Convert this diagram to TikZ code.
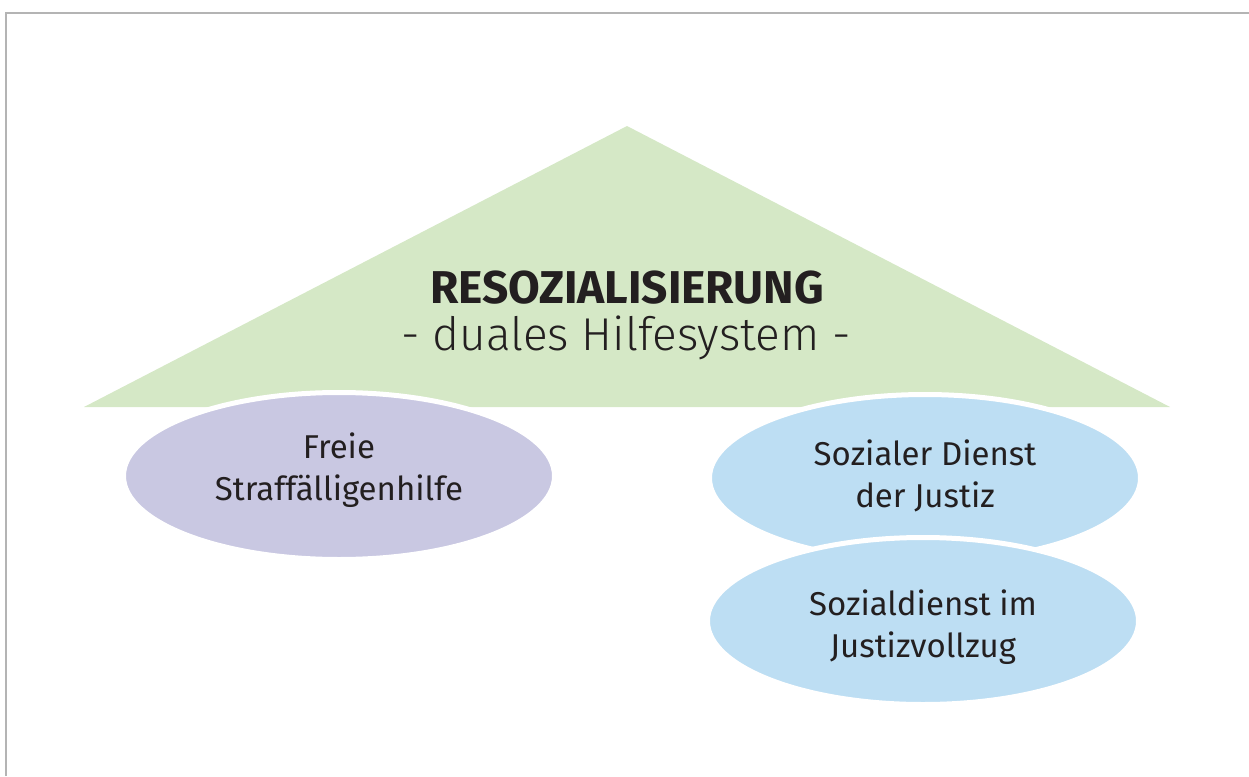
\documentclass[tikz,border=0pt]{standalone}
\usepackage{fontspec}
\setmainfont{Fira Sans}
\newfontfamily\lightfont{Fira Sans}[UprightFont={* Light}]
\usetikzlibrary{shapes.geometric}
\definecolor{roofgreen}{HTML}{D5E8C6}
\definecolor{lavender}{HTML}{C9C8E2}
\definecolor{paleblue}{HTML}{BDDEF3}
\definecolor{framegray}{HTML}{B4B4B4}
\definecolor{textdark}{HTML}{231F20}
\tikzset{
  pillar/.style={ellipse, draw=white, line width=5pt, inner sep=0pt,
    minimum width=431pt, minimum height=167pt},
  pillartext/.style={anchor=base, align=center, inner sep=0pt,
    text=textdark, font=\fontsize{33}{42}\selectfont},
}
\begin{document}
\begin{tikzpicture}[x=1pt, y=-1pt]
\useasboundingbox (0,0) rectangle (1249,776);
% frame
\draw[framegray, line width=1.6pt] (6,776) -- (6,13) -- (1249,13);
% roof
\fill[roofgreen] (84,407) -- (627,126) -- (1170,407) -- cycle;
\node[anchor=base, text=textdark, font=\fontsize{46}{48}\bfseries] (title) at (627,303) {RESOZIALISIERUNG};
\node[anchor=base, text=textdark, font=\fontsize{46}{48}\lightfont] (subtitle) at (626,350) {- duales Hilfesystem -};
% pillars
\node[pillar, fill=lavender] (freie) at (339,476) {};
\node[pillar, fill=paleblue] (sdj) at (925,478) {};
\node[pillar, fill=paleblue] (sjv) at (923,621) {};
\node[pillartext] (freie-t) at ([yshift=-24pt]freie.center) {Freie\\Straffälligenhilfe};
\node[pillartext] (sdj-t) at ([yshift=-29pt]sdj.center) {Sozialer Dienst\\der Justiz};
\node[pillartext] (sjv-t) at ([yshift=-36pt]sjv.center) {Sozialdienst im\\Justizvollzug};
\end{tikzpicture}
\end{document}
